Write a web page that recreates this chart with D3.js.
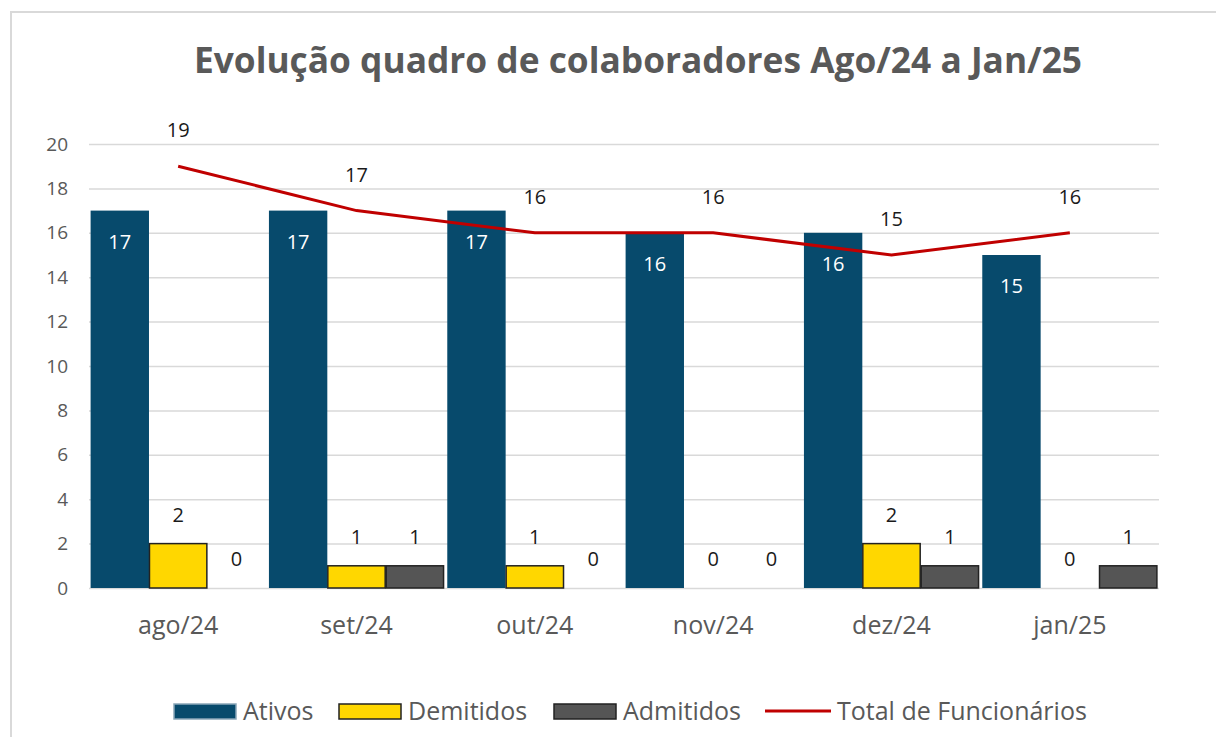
<!DOCTYPE html>
<html>
<head>
<meta charset="utf-8">
<script src="https://cdn.jsdelivr.net/npm/d3@7"></script>
<style>
  body { margin: 0; background: #fff; }
  text { font-family: "Open Sans", "Noto Sans", sans-serif; }
</style>
</head>
<body>
<svg id="chart"></svg>
<script>
const months = ["ago/24", "set/24", "out/24", "nov/24", "dez/24", "jan/25"];
const ativos = [17, 17, 17, 16, 16, 15];
const demitidos = [2, 1, 1, 0, 2, 0];
const admitidos = [0, 1, 0, 0, 1, 1];
const total = [19, 17, 16, 16, 15, 16];
const yTicks = [0, 2, 4, 6, 8, 10, 12, 14, 16, 18, 20];

const width = 1216;
const height = 737;
const marginTop = 144;
const marginRight = 57;
const marginBottom = 149;
const marginLeft = 89;

const barSeries = [
  { name: "Ativos", values: ativos, fill: "#074a6c", stroke: "none", inside: true },
  { name: "Demitidos", values: demitidos, fill: "#ffd700", stroke: "#222", inside: false },
  { name: "Admitidos", values: admitidos, fill: "#555555", stroke: "#222", inside: false }
];

const svg = d3.select("#chart")
  .attr("width", width)
  .attr("height", height)
  .attr("viewBox", [0, 0, width, height]);

// chart frame
svg.append("rect")
  .attr("x", 11)
  .attr("y", 12)
  .attr("width", width)
  .attr("height", height)
  .attr("fill", "none")
  .attr("stroke", "#d9d9d9")
  .attr("stroke-width", 2);

svg.append("text")
  .attr("x", 638)
  .attr("y", 73)
  .attr("text-anchor", "middle")
  .attr("font-size", 35.3)
  .attr("font-weight", "bold")
  .attr("fill", "#595959")
  .text("Evolução quadro de colaboradores Ago/24 a Jan/25");

const x = d3.scaleBand()
  .domain(months)
  .range([marginLeft, width - marginRight])
  .paddingInner(0.018)
  .paddingOuter(0.009);

const xSub = d3.scaleBand()
  .domain(barSeries.map(d => d.name))
  .range([0, x.bandwidth()]);

const y = d3.scaleLinear()
  .domain([0, 20])
  .range([height - marginBottom, marginTop]);

// gridlines
svg.append("g")
  .attr("transform", `translate(${marginLeft},0)`)
  .call(d3.axisLeft(y)
    .tickValues(yTicks)
    .tickSize(-(width - marginLeft - marginRight))
    .tickPadding(21))
  .attr("font-family", null)
  .call(g => g.select(".domain").remove())
  .call(g => g.selectAll(".tick line").attr("stroke", "#d9d9d9").attr("stroke-width", 1.5))
  .call(g => g.selectAll(".tick text")
    .attr("fill", "#595959")
    .attr("font-size", 19));

// x axis labels
svg.append("g")
  .attr("transform", `translate(0,${height - marginBottom})`)
  .call(d3.axisBottom(x).tickSize(0).tickPadding(28))
  .attr("font-family", null)
  .call(g => g.select(".domain").remove())
  .call(g => g.selectAll(".tick text")
    .attr("fill", "#595959")
    .attr("font-size", 25));

// bars
barSeries.forEach(s => {
  const g = svg.append("g");
  g.selectAll("rect")
    .data(months)
    .join("rect")
    .attr("x", (m) => x(m) + xSub(s.name) + (s.stroke === "none" ? 0 : 0.5))
    .attr("y", (m, i) => y(s.values[i]))
    .attr("width", xSub.bandwidth() - (s.stroke === "none" ? 0 : 1))
    .attr("height", (m, i) => y(0) - y(s.values[i]))
    .attr("fill", s.fill)
    .attr("stroke", s.stroke)
    .attr("stroke-width", 1.5);

  g.selectAll("text")
    .data(months)
    .join("text")
    .attr("x", (m) => x(m) + xSub(s.name) + xSub.bandwidth() / 2)
    .attr("y", (m, i) => s.inside ? y(s.values[i]) + 38 : y(s.values[i]) - 22)
    .attr("text-anchor", "middle")
    .attr("font-size", 20)
    .attr("fill", s.inside ? "#fff" : "#1a1a1a")
    .text((m, i) => s.values[i]);
});

// total line
const line = d3.line()
  .x((_, i) => x(months[i]) + x.bandwidth() / 2)
  .y(d => y(d));

svg.append("path")
  .attr("d", line(total))
  .attr("fill", "none")
  .attr("stroke", "#c00000")
  .attr("stroke-width", 3);

svg.append("g")
  .selectAll("text")
  .data(total)
  .join("text")
  .attr("x", (_, i) => x(months[i]) + x.bandwidth() / 2)
  .attr("y", d => y(d) - 29)
  .attr("text-anchor", "middle")
  .attr("font-size", 20)
  .attr("fill", "#1a1a1a")
  .text(d => d);

// legend
const legendItems = [
  { name: "Ativos", type: "rect", fill: "#074a6c", stroke: "#8aa6b8", x: 174 },
  { name: "Demitidos", type: "rect", fill: "#ffd700", stroke: "#222", x: 339 },
  { name: "Admitidos", type: "rect", fill: "#555555", stroke: "#222", x: 554 },
  { name: "Total de Funcionários", type: "line", fill: "#c00000", x: 765 }
];

const legend = svg.append("g").attr("transform", "translate(0,711)");
legendItems.forEach(d => {
  if (d.type === "rect") {
    legend.append("rect")
      .attr("x", d.x)
      .attr("y", -7)
      .attr("width", 62)
      .attr("height", 15)
      .attr("fill", d.fill)
      .attr("stroke", d.stroke)
      .attr("stroke-width", 1.5);
  } else {
    legend.append("line")
      .attr("x1", d.x)
      .attr("x2", d.x + 66)
      .attr("y1", 0)
      .attr("y2", 0)
      .attr("stroke", d.fill)
      .attr("stroke-width", 3);
  }
  legend.append("text")
    .attr("x", d.x + (d.type === "rect" ? 69 : 72))
    .attr("y", 0)
    .attr("dy", "0.35em")
    .attr("font-size", 25)
    .attr("fill", "#595959")
    .text(d.name);
});
</script>
</body>
</html>
